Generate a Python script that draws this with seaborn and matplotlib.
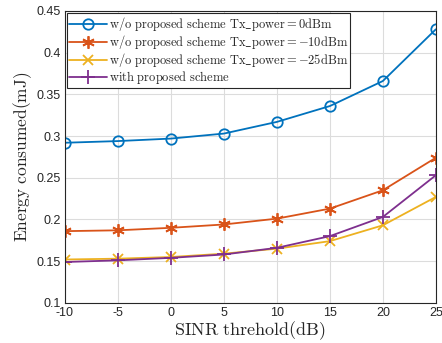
import matplotlib
matplotlib.use("Agg")
import matplotlib.pyplot as plt
import seaborn as sns
import pandas as pd

sinr = [-10, -5, 0, 5, 10, 15, 20, 25]
e_0dbm = [0.292, 0.294, 0.297, 0.303, 0.317, 0.336, 0.366, 0.428]
e_m10dbm = [0.186, 0.187, 0.190, 0.194, 0.201, 0.213, 0.235, 0.274]
e_m25dbm = [0.152, 0.153, 0.155, 0.159, 0.165, 0.174, 0.193, 0.227]
e_prop = [0.149, 0.151, 0.154, 0.158, 0.166, 0.180, 0.203, 0.253]

labels = [
    r"$\mathrm{w/o\ proposed\ scheme\ Tx\_power} = 0\mathrm{dBm}$",
    r"$\mathrm{w/o\ proposed\ scheme\ Tx\_power} = -10\mathrm{dBm}$",
    r"$\mathrm{w/o\ proposed\ scheme\ Tx\_power} = -25\mathrm{dBm}$",
    r"$\mathrm{with\ proposed\ scheme}$",
]
xticks = [-10, -5, 0, 5, 10, 15, 20, 25]
xticklabels = ["-10", "-5", "0", "5", "10", "15", "20", "25"]
yticks = [0.1, 0.15, 0.2, 0.25, 0.3, 0.35, 0.4, 0.45]
yticklabels = ["0.1", "0.15", "0.2", "0.25", "0.3", "0.35", "0.4", "0.45"]

sns.set_theme(style="whitegrid")
plt.rcParams["font.family"] = ["Liberation Sans", "DejaVu Sans"]
plt.rcParams["mathtext.fontset"] = "cm"

fig = plt.figure(figsize=(4.42, 3.43), dpi=100)
ax = fig.add_axes([0.147, 0.117, 0.839, 0.851])

colors = ["#0072BD", "#D95319", "#EDB120", "#7E2F8E"]
asterisk = (6, 2, 0)
styles = [
    dict(marker="o", markersize=7.5, markerfacecolor="none", markeredgewidth=1.3),
    dict(marker=asterisk, markersize=9, markeredgewidth=1.3),
    dict(marker="x", markersize=7, markeredgewidth=1.3),
    dict(marker="+", markersize=10, markeredgewidth=1.3),
]
for y, lab, c, st in zip([e_0dbm, e_m10dbm, e_m25dbm, e_prop], labels, colors, styles):
    df = pd.DataFrame({"x": sinr, "y": y})
    sns.lineplot(data=df, x="x", y="y", ax=ax, color=c, linewidth=1.3, label=lab,
                 markeredgecolor=c, **st)

ax.set_xlim(-10, 25)
ax.set_ylim(0.1, 0.45)
ax.set_xticks(xticks)
ax.set_xticklabels(xticklabels, fontsize=9, color="#262626")
ax.set_yticks(yticks)
ax.set_yticklabels(yticklabels, fontsize=9, color="#262626")
ax.tick_params(direction="in", length=3, color="#262626", pad=3)
ax.grid(True, color="#dcdcdc", linewidth=0.8)
for s in ax.spines.values():
    s.set_color("#262626")
    s.set_linewidth(0.8)
    s.set_visible(True)
ax.set_xlabel(r"$\mathrm{SINR\ threhold(dB)}$", fontsize=13, labelpad=0)
ax.set_ylabel(r"$\mathrm{Energy\ consumed(mJ)}$", fontsize=12.5, labelpad=2)

leg = ax.legend(loc="upper left", fontsize=9, frameon=True, fancybox=False,
                borderaxespad=0.2, handlelength=3.0, handletextpad=0.2,
                labelspacing=0.0, borderpad=0.15, framealpha=1)
leg.get_frame().set_edgecolor("#262626")
leg.get_frame().set_linewidth(0.8)

fig.savefig("out.png", dpi=100)
